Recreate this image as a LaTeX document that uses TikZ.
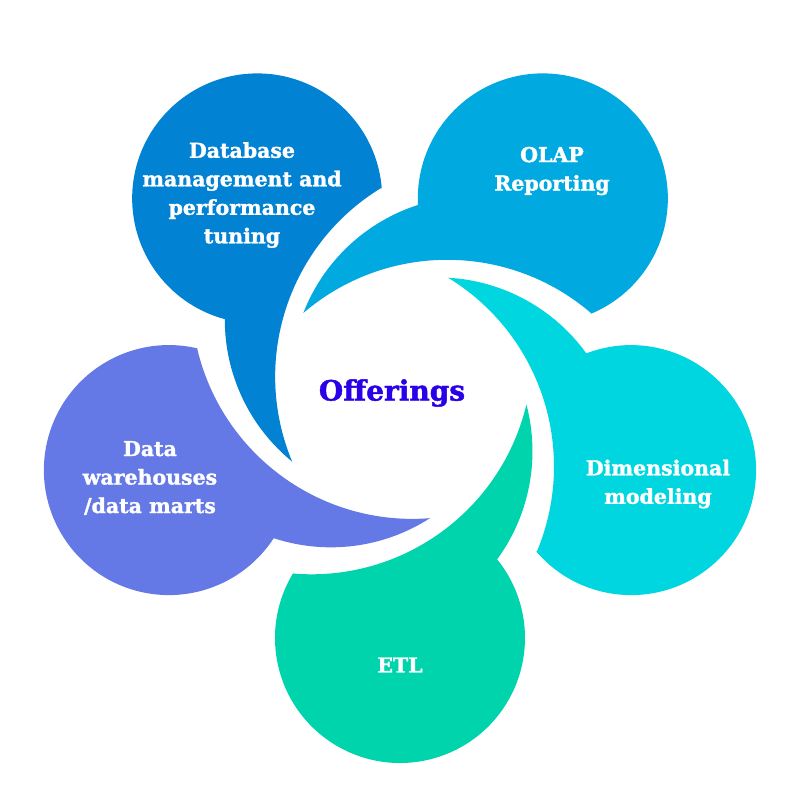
\documentclass[tikz,border=0pt]{standalone}
\usepackage{fontspec}
\setmainfont{DejaVu Serif}[BoldFeatures={FakeBold=1.5}]
\definecolor{cDB}{HTML}{0282D2}
\definecolor{cOL}{HTML}{00A9E0}
\definecolor{cDM}{HTML}{00D6E0}
\definecolor{cET}{HTML}{00D4AC}
\definecolor{cDW}{HTML}{6478E6}
\definecolor{cOF}{HTML}{2A00E8}
\newcommand\mypetal[2]{%
  \begin{scope}[rotate=#1]
    \fill[#2] ([shift={(0,243)}]-31.6:125)
      arc[start angle=-31.6,end angle=219,radius=125]
      arc[start angle=143.8,end angle=194.8,radius=183]
      arc[start angle=166.6,end angle=85.2,radius=221] -- cycle;
  \end{scope}}
\begin{document}
\begin{tikzpicture}[x=1pt,y=1pt,
  lbl/.style={text=white,font=\bfseries\fontsize{20.5}{28.5}\selectfont,align=center},
  ctr/.style={text=cOF,font=\bfseries\fontsize{28}{32}\selectfont}]
\fill[white] (-400,-405) rectangle (400,395);
\useasboundingbox (-400,-405) rectangle (400,395);
\mypetal{36}{cDB}
\mypetal{-36}{cOL}
\mypetal{-108}{cDM}
\mypetal{180}{cET}
\mypetal{108}{cDW}
\node[lbl] (db) at (-158,200) {Database\\management and\\performance\\tuning};
\node[lbl] (olap) at (152,224) {OLAP\\Reporting};
\node[lbl] (dim) at (258,-89) {Dimensional\\modeling};
\node[lbl] (etl) at (0,-270) {ETL};
\node[lbl] (dw) at (-250,-83) {Data\\warehouses\\/data marts};
\node[ctr] (off) at (-8,2) {Offerings};
\end{tikzpicture}
\end{document}
